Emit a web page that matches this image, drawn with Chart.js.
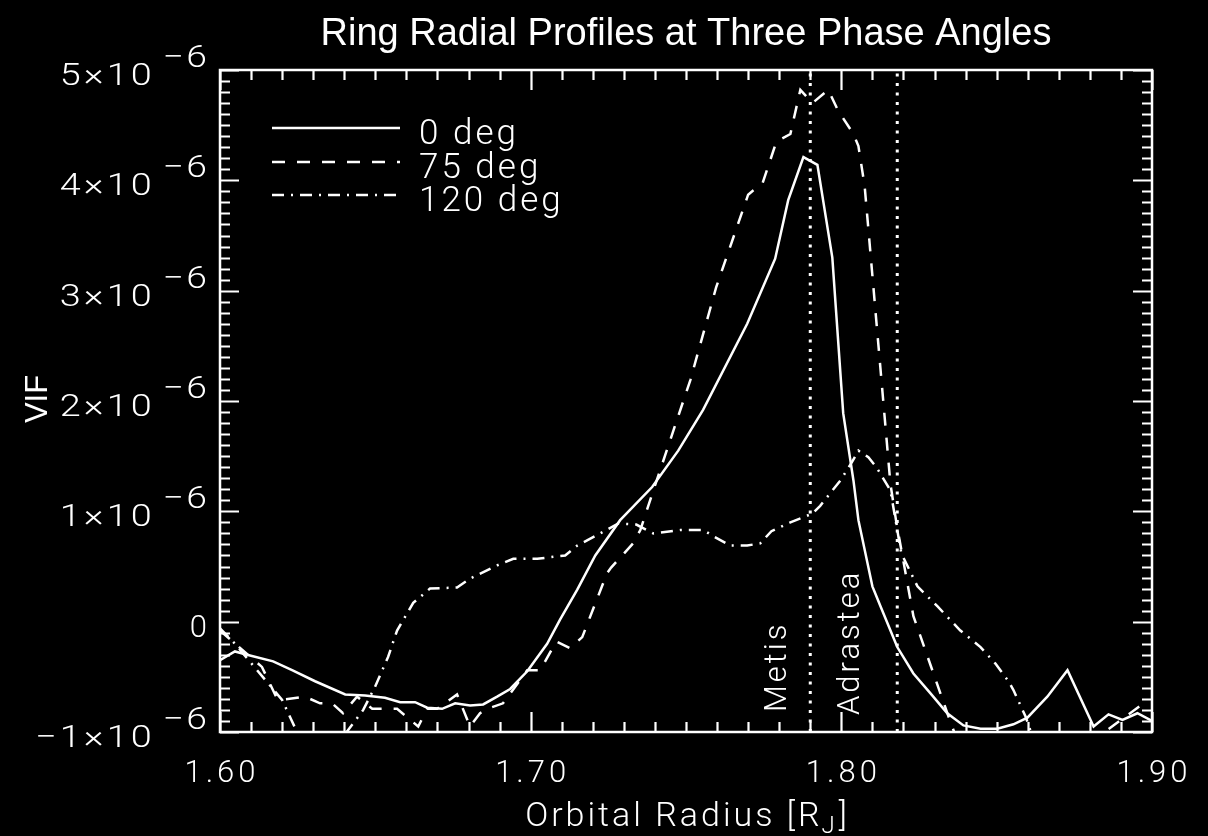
<!DOCTYPE html>
<html><head><meta charset="utf-8">
<script src="https://cdn.jsdelivr.net/npm/chart.js@4/dist/chart.umd.min.js"></script>
<style>html,body{margin:0;padding:0;background:#000;overflow:hidden}#wrap{width:1208px;height:836px}</style>
</head><body><div id="wrap"><canvas id="c" width="1208" height="836"></canvas></div>
<script>
const chartTitle = 'Ring Radial Profiles at Three Phase Angles';
const yAxisTitle = 'VIF';
const xAxisTitleMain = 'Orbital Radius [R';
const xAxisTitleSub = 'J';
const xAxisTitleEnd = ']';
const seriesNames = ['0 deg', '75 deg', '120 deg'];
const xTickValues = [1.60, 1.70, 1.80, 1.90];
const xTickLabels = ['1.60', '1.70', '1.80', '1.90'];
const yTickValues = [-1e-6, 0, 1e-6, 2e-6, 3e-6, 4e-6, 5e-6];
const yTickMantissas = ['\u22121', '0', '1', '2', '3', '4', '5'];
const yTickExponent = '\u22126';
const moonNames = ['Metis', 'Adrastea'];
const moonRadii = [1.790, 1.818];

const radius0 = [1.6000,1.6048,1.6087,1.6171,1.6232,1.6306,1.6403,1.6467,1.6531,1.6580,1.6628,1.6667,1.6715,1.6757,1.6805,1.6847,1.6892,1.6934,1.6989,1.7053,1.7095,1.7150,1.7208,1.7288,1.7391,1.7475,1.7555,1.7697,1.7787,1.7829,1.7878,1.7923,1.7971,1.8006,1.8039,1.8055,1.8100,1.8126,1.8180,1.8232,1.8287,1.8341,1.8393,1.8448,1.8502,1.8554,1.8599,1.8663,1.8728,1.8812,1.8860,1.8905,1.8953,1.9000];
const vif0 = [-0.35e-6,-0.27e-6,-0.30e-6,-0.36e-6,-0.44e-6,-0.54e-6,-0.66e-6,-0.67e-6,-0.69e-6,-0.73e-6,-0.73e-6,-0.78e-6,-0.79e-6,-0.74e-6,-0.76e-6,-0.75e-6,-0.68e-6,-0.61e-6,-0.45e-6,-0.20e-6,0.02e-6,0.29e-6,0.60e-6,0.92e-6,1.22e-6,1.55e-6,1.92e-6,2.70e-6,3.29e-6,3.82e-6,4.21e-6,4.14e-6,3.30e-6,1.89e-6,1.28e-6,0.92e-6,0.32e-6,0.14e-6,-0.23e-6,-0.47e-6,-0.65e-6,-0.83e-6,-0.94e-6,-0.97e-6,-0.97e-6,-0.93e-6,-0.87e-6,-0.68e-6,-0.44e-6,-0.95e-6,-0.84e-6,-0.89e-6,-0.83e-6,-0.90e-6];

const radius75 = [1.6000,1.6135,1.6184,1.6196,1.6274,1.6322,1.6361,1.6396,1.6441,1.6490,1.6570,1.6638,1.6667,1.6699,1.6763,1.6805,1.6837,1.6870,1.6911,1.6989,1.7031,1.7082,1.7127,1.7166,1.7217,1.7246,1.7259,1.7330,1.7353,1.7395,1.7514,1.7597,1.7700,1.7717,1.7746,1.7791,1.7836,1.7868,1.7907,1.7958,1.7990,1.8039,1.8055,1.8075,1.8158,1.8177,1.8232,1.8345,1.8467,1.8857,1.8963];
const vif75 = [-0.08e-6,-0.41e-6,-0.70e-6,-0.71e-6,-0.68e-6,-0.74e-6,-0.74e-6,-0.83e-6,-0.68e-6,-0.79e-6,-0.79e-6,-0.95e-6,-0.79e-6,-0.79e-6,-0.66e-6,-0.95e-6,-0.83e-6,-0.78e-6,-0.74e-6,-0.44e-6,-0.44e-6,-0.18e-6,-0.24e-6,-0.14e-6,0.23e-6,0.44e-6,0.49e-6,0.71e-6,0.83e-6,1.19e-6,2.19e-6,3.03e-6,3.87e-6,3.91e-6,3.97e-6,4.35e-6,4.42e-6,4.82e-6,4.70e-6,4.82e-6,4.63e-6,4.42e-6,4.31e-6,3.95e-6,1.25e-6,0.90e-6,0.05e-6,-0.86e-6,-1.80e-6,-0.98e-6,-0.76e-6];

const radius120 = [1.6000,1.6048,1.6200,1.6309,1.6461,1.6499,1.6541,1.6570,1.6622,1.6676,1.6763,1.6805,1.6892,1.6944,1.7021,1.7111,1.7150,1.7224,1.7282,1.7340,1.7395,1.7481,1.7556,1.7591,1.7643,1.7697,1.7739,1.7775,1.7836,1.7907,1.7932,1.7997,1.8035,1.8055,1.8087,1.8113,1.8158,1.8193,1.8245,1.8309,1.8383,1.8448,1.8496,1.8538,1.8554,1.8593,1.8641];
const vif120 = [-0.06e-6,-0.20e-6,-0.71e-6,-1.37e-6,-0.80e-6,-0.59e-6,-0.32e-6,-0.08e-6,0.17e-6,0.30e-6,0.31e-6,0.39e-6,0.51e-6,0.57e-6,0.57e-6,0.60e-6,0.69e-6,0.80e-6,0.89e-6,0.88e-6,0.80e-6,0.83e-6,0.83e-6,0.77e-6,0.69e-6,0.69e-6,0.71e-6,0.82e-6,0.90e-6,0.98e-6,1.05e-6,1.28e-6,1.45e-6,1.55e-6,1.49e-6,1.40e-6,1.19e-6,0.62e-6,0.32e-6,0.14e-6,-0.08e-6,-0.23e-6,-0.38e-6,-0.54e-6,-0.62e-6,-0.86e-6,-1.25e-6];

const THIN = '"Roboto", "DejaVu Sans", sans-serif';
const HELV = '"Liberation Sans", Arial, sans-serif';
const DASH75 = [13, 12];
const DASH120 = [12, 7, 2, 7];
const DOTS = [3, 6.5];

function pts(xs, ys) { return xs.map((x, i) => ({ x: x, y: ys[i] })); }

function setSpacing(ctx, s) { try { ctx.letterSpacing = s + 'px'; } catch (e) {} }
function measure(ctx, s, font, spacing, k) {
  ctx.font = font; setSpacing(ctx, spacing || 0);
  const w = (ctx.measureText(s).width - (spacing || 0)) * (k || 1);
  setSpacing(ctx, 0);
  return w;
}
// draws text (spacing-aware alignment, optional horizontal stretch k)
function txt(ctx, s, x, y, font, align, spacing, k) {
  k = k || 1;
  const w = measure(ctx, s, font, spacing, k);
  let x0 = x;
  if (align === 'center') x0 = x - w / 2;
  else if (align === 'right') x0 = x - w;
  ctx.save();
  ctx.font = font; ctx.textAlign = 'left'; ctx.textBaseline = 'alphabetic';
  setSpacing(ctx, spacing || 0);
  ctx.translate(x0, y); ctx.scale(k, 1);
  ctx.fillText(s, 0, 0);
  ctx.restore();
  return w;
}

const bgPlugin = {
  id: 'bg',
  beforeDraw(chart) {
    const c = chart.ctx; c.save(); c.fillStyle = '#000'; c.fillRect(0, 0, chart.width, chart.height); c.restore();
  }
};

const framePlugin = {
  id: 'frame',
  afterDraw(chart) {
    const ctx = chart.ctx, a = chart.chartArea;
    const xs = chart.scales.x, ys = chart.scales.y;
    ctx.save();
    ctx.strokeStyle = '#fff'; ctx.fillStyle = '#fff';
    ctx.lineWidth = 2.5; ctx.setLineDash([]); ctx.lineCap = 'butt';
    ctx.strokeRect(a.left, a.top, a.right - a.left, a.bottom - a.top);
    ctx.lineWidth = 2.2;
    for (let i = 0; i <= 30; i++) {
      const v = 1.6 + i * 0.01;
      const p = Math.round(xs.getPixelForValue(v)) + 0.5;
      const len = (i % 10 === 0) ? 20 : 10;
      ctx.beginPath();
      ctx.moveTo(p, a.bottom); ctx.lineTo(p, a.bottom - len);
      ctx.moveTo(p, a.top); ctx.lineTo(p, a.top + len);
      ctx.stroke();
    }
    for (let i = 0; i <= 60; i++) {
      const v = -1e-6 + i * 1e-7;
      const p = Math.round(ys.getPixelForValue(v)) + 0.5;
      const len = (i % 10 === 0) ? 19 : 10;
      ctx.beginPath();
      ctx.moveTo(a.left, p); ctx.lineTo(a.left + len, p);
      ctx.moveTo(a.right, p); ctx.lineTo(a.right - len, p);
      ctx.stroke();
    }
    const tickFont = '300 31px ' + THIN;
    xTickValues.forEach((v, i) => {
      txt(ctx, xTickLabels[i], xs.getPixelForValue(v), a.bottom + 50, tickFont, 'center', 4);
    });
    const rightEdge = a.left - 13;
    yTickValues.forEach((v, i) => {
      const p = ys.getPixelForValue(v);
      const m = yTickMantissas[i];
      if (v === 0) {
        txt(ctx, m, rightEdge, p + 15, tickFont, 'right', 2);
        return;
      }
      const ew = txt(ctx, yTickExponent, rightEdge, p - 3, tickFont, 'right', 2, 1.2);
      txt(ctx, m + '\u00d710', rightEdge - ew - 11, p + 15, tickFont, 'right', 2.5, 1.22);
    });
    txt(ctx, chartTitle, (a.left + a.right) / 2, 45, '38px ' + HELV, 'center', 0);
    const xf = '300 34px ' + THIN, sf = '300 24px ' + THIN;
    const w1 = measure(ctx, xAxisTitleMain, xf, 3), w2 = measure(ctx, xAxisTitleSub, sf, 1), w3 = measure(ctx, xAxisTitleEnd, xf, 3);
    let sx = (a.left + a.right) / 2 - (w1 + w2 + w3 + 6) / 2;
    txt(ctx, xAxisTitleMain, sx, 826, xf, 'left', 3); sx += w1 + 2;
    txt(ctx, xAxisTitleSub, sx, 833, sf, 'left', 1); sx += w2 + 4;
    txt(ctx, xAxisTitleEnd, sx, 826, xf, 'left', 3);
    ctx.save();
    ctx.translate(47, (a.top + a.bottom) / 2 - 2);
    ctx.rotate(-Math.PI / 2);
    txt(ctx, yAxisTitle, 0, 0, '31px ' + HELV, 'center', 0);
    ctx.restore();
    const moonOff = [-24, -38], moonBottom = [712, 715];
    moonNames.forEach((n, i) => {
      ctx.save();
      ctx.translate(xs.getPixelForValue(moonRadii[i]) + moonOff[i], moonBottom[i]);
      ctx.rotate(-Math.PI / 2);
      txt(ctx, n, 0, 0, tickFont, 'left', 3);
      ctx.restore();
    });
    const legY = [128, 162, 195], dashes = [[], DASH75, DASH120];
    const legFont = '300 35px ' + THIN;
    seriesNames.forEach((n, i) => {
      ctx.lineWidth = 2.5;
      ctx.setLineDash(dashes[i]);
      ctx.beginPath(); ctx.moveTo(272, legY[i]); ctx.lineTo(400, legY[i]); ctx.stroke();
      ctx.setLineDash([]);
      txt(ctx, n, 419, legY[i] + 16, legFont, 'left', 3);
    });
    ctx.restore();
  }
};

const lineBase = { borderColor: '#fff', borderWidth: 2.5, pointRadius: 0, tension: 0, fill: false, borderCapStyle: 'butt', borderJoinStyle: 'miter' };
const datasets = [
  Object.assign({ label: seriesNames[0], data: pts(radius0, vif0) }, lineBase),
  Object.assign({ label: seriesNames[1], data: pts(radius75, vif75), borderDash: DASH75 }, lineBase),
  Object.assign({ label: seriesNames[2], data: pts(radius120, vif120), borderDash: DASH120 }, lineBase)
];
moonRadii.forEach((r, i) => {
  datasets.push(Object.assign({}, lineBase, { label: moonNames[i], data: [{ x: r, y: -1e-6 }, { x: r, y: 5e-6 }], borderDash: DOTS, borderWidth: 3 }));
});

new Chart(document.getElementById('c').getContext('2d'), {
  type: 'line',
  data: { datasets: datasets },
  options: {
    responsive: false, animation: false, devicePixelRatio: 1, events: [],
    layout: { padding: { left: 220, right: 56, top: 70, bottom: 104 } },
    scales: {
      x: { type: 'linear', min: 1.6, max: 1.9, display: false },
      y: { type: 'linear', min: -1e-6, max: 5e-6, display: false }
    },
    plugins: { legend: { display: false }, title: { display: false }, tooltip: { enabled: false } }
  },
  plugins: [bgPlugin, framePlugin]
});
</script></body></html>
